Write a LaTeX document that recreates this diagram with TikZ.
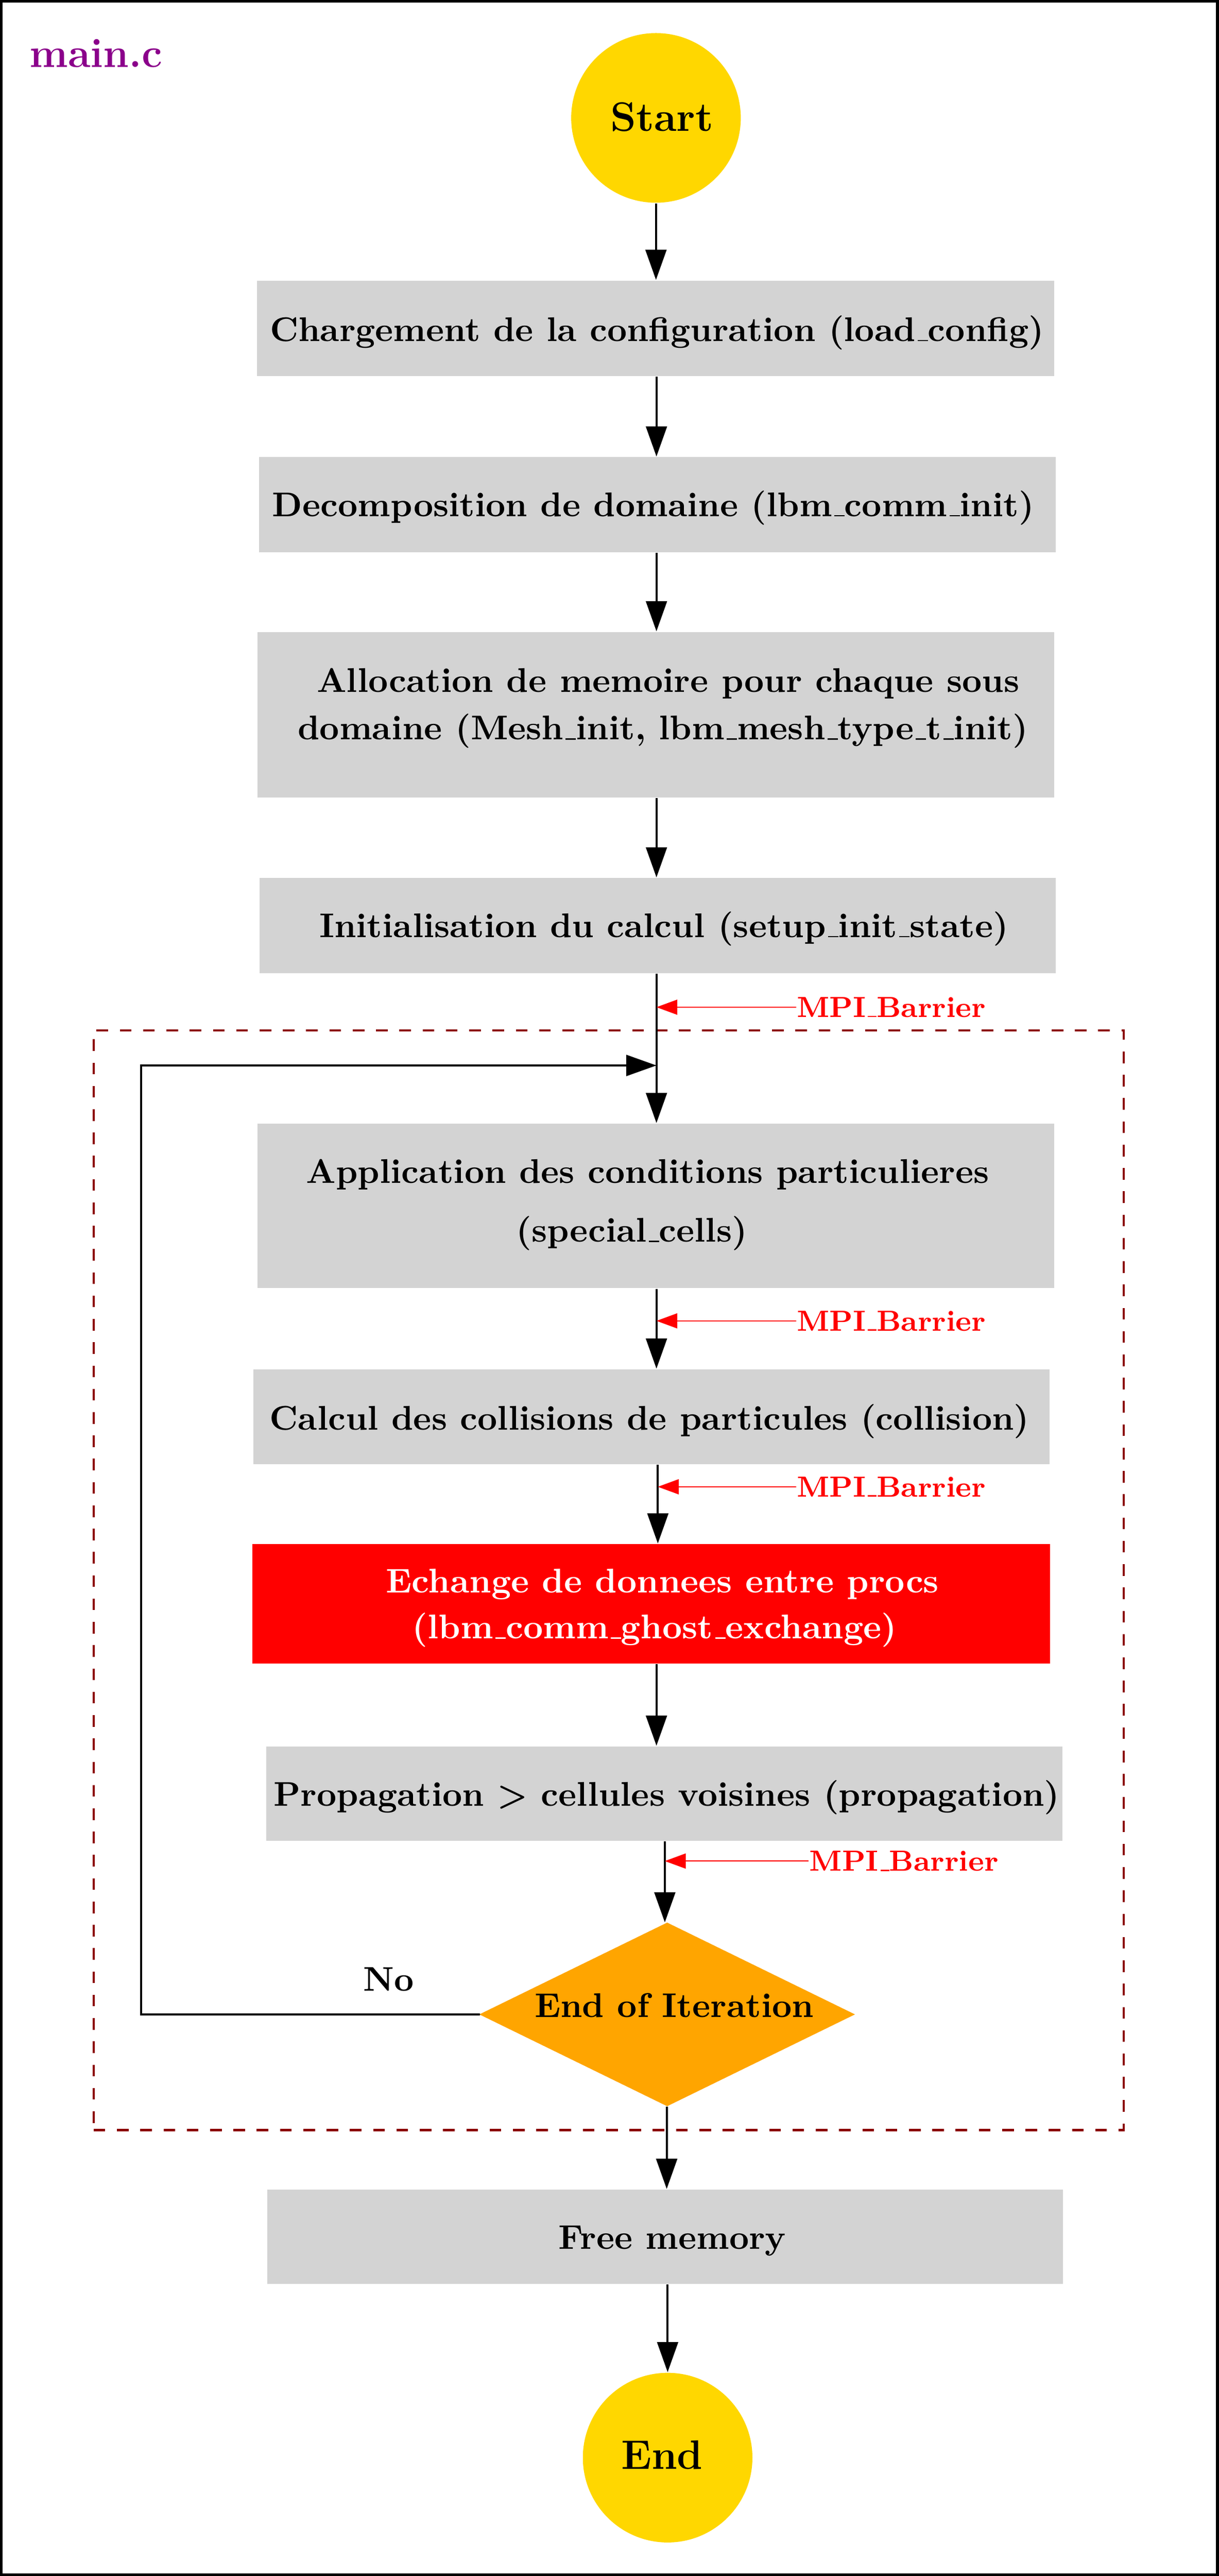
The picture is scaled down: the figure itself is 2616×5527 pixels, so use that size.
\documentclass[tikz,border=0pt]{standalone}
\usetikzlibrary{arrows.meta,shapes.geometric,fit}
\definecolor{boxgray}{HTML}{D3D3D3}
\definecolor{startgold}{HTML}{FFD700}
\definecolor{diaorange}{HTML}{FFA500}
\definecolor{framered}{HTML}{8B0000}
\definecolor{titlepurple}{HTML}{8B008B}
\newcommand\us{\leavevmode\kern.06em\vbox{\hrule width.3em}}
\tikzset{
  box/.style={fill=boxgray, inner sep=0pt},
  txt/.style={font=\fontsize{10}{12}\selectfont\bfseries, inner sep=0pt, anchor=base},
  bigtxt/.style={font=\fontsize{12}{14}\selectfont\bfseries, inner sep=0pt, anchor=base},
  mpi/.style={font=\fontsize{8.5}{10}\selectfont\bfseries, text=red, inner sep=0pt, anchor=west},
  arr/.style={-{Triangle[length=8.8pt,width=6.1pt]}, line width=0.6pt},
  redarr/.style={-{Triangle[length=6.1pt,width=4.4pt]}, draw=red, fill=red, line width=0.3pt},
  term/.style={circle, fill=startgold, minimum size=49.5pt, inner sep=0pt},
}
\begin{document}
\begin{tikzpicture}[x=0.136pt,y=-0.136pt]
\useasboundingbox (0,0) rectangle (2616,5527);
\draw[line width=0.8pt] (3,3) rectangle (2613,5524);

% column coordinates for vertical connectors
\coordinate (colA) at (1409,0);
\coordinate (colB) at (1412,0);
\coordinate (colC) at (1427,0);
\coordinate (colD) at (1431,0);
\coordinate (loopx) at (303,0);
\coordinate (loopin) at (1409,2286);

% loop frame
\node[fit={(201,2211) (2412,4570)}, inner sep=0pt, draw=framered, line width=0.68pt, dash pattern=on 3.4pt off 3.4pt] (loopframe) {};

% title
\node[bigtxt, anchor=base west, text=titlepurple] (title) at (62,144) {main.c};

% terminals
\node[term] (start) at (1408,253) {};
\node[bigtxt] (starttxt) at (1421,281) {Start};
\node[term] (end) at (1433,5273) {};
\node[bigtxt] (endtxt) at (1421,5298) {End};

% boxes
\node[box, fit={(552,602) (2263,807)}] (b1) {};
\node[txt] (t1) at (1410,732) {Chargement de la configuration (load\us config)};
\node[box, fit={(556,981) (2266,1185)}] (b2) {};
\node[txt] (t2) at (1402,1108) {Decomposition de domaine (lbm\us comm\us init)};
\node[box, fit={(553,1356) (2263,1711)}] (b3) {};
\node[txt] (t3a) at (1434,1485) {Allocation de memoire pour chaque sous};
\node[txt] (t3b) at (1423,1587) {domaine (Mesh\us init, lbm\us mesh\us type\us t\us init)};
\node[box, fit={(557,1884) (2266,2088)}] (b4) {};
\node[txt] (t4) at (1425,2011) {Initialisation du calcul (setup\us init\us state)};
\node[box, fit={(553,2411) (2263,2764)}] (b5) {};
\node[txt] (t5a) at (1390,2538) {Application des conditions particulieres};
\node[txt] (t5b) at (1356,2665) {(special\us cells)};
\node[box, fit={(544,2938) (2253,3141)}] (b6) {};
\node[txt] (t6) at (1394,3068) {Calcul des collisions de particules (collision)};
\node[fill=red, inner sep=0pt, fit={(542,3313) (2254,3569)}] (b7) {};
\node[txt, text=white] (t7a) at (1422,3417) {Echange de donnees entre procs};
\node[txt, text=white] (t7b) at (1405,3516) {(lbm\us comm\us ghost\us exchange)};
\node[box, fit={(571,3747) (2280,3949)}] (b8) {};
\node[txt] (t8) at (1431,3875) {Propagation > cellules voisines (propagation)};
\node[diamond, fill=diaorange, draw=diaorange, inner sep=0pt, minimum width=108.9pt, minimum height=53.3pt] (dia) at (1432,4322) {};
\node[txt] (tdia) at (1447,4328) {End of Iteration};
\node[txt] (no) at (834,4272) {No};
\node[box, fit={(574,4698) (2282,4900)}] (b9) {};
\node[txt] (t9) at (1443,4826) {Free memory};

% MPI labels
\node[mpi] (m1) at (1709,2161) {MPI\us Barrier};
\node[mpi] (m2) at (1709,2834) {MPI\us Barrier};
\node[mpi] (m3) at (1709,3190) {MPI\us Barrier};
\node[mpi] (m4) at (1736,3993) {MPI\us Barrier};

% connectors
\draw[arr] (start.south) -- (start.south |- b1.north);
\draw[arr] (b1.south -| colA) -- (b2.north -| colA);
\draw[arr] (b2.south -| colA) -- (b3.north -| colA);
\draw[arr] (b3.south -| colA) -- (b4.north -| colA);
\draw[arr] (b4.south -| colA) -- (b5.north -| colA);
\draw[arr] (b5.south -| colA) -- (b6.north -| colA);
\draw[arr] (b6.south -| colB) -- (b7.north -| colB);
\draw[arr] (b7.south -| colA) -- (b8.north -| colA);
\draw[arr] (b8.south -| colC) -- (dia.north -| colC);
\draw[arr] (dia.south -| colD) -- (b9.north -| colD);
\draw[arr] (b9.south -| end.north) -- (end.north);
\draw[arr] (dia.west) -- (dia.west -| loopx) -- (loopx |- loopin) -- (loopin);

\draw[redarr] (m1.west) -- (m1.west -| colA);
\draw[redarr] (m2.west) -- (m2.west -| colA);
\draw[redarr] (m3.west) -- (m3.west -| colB);
\draw[redarr] (m4.west) -- (m4.west -| colC);
\end{tikzpicture}
\end{document}
